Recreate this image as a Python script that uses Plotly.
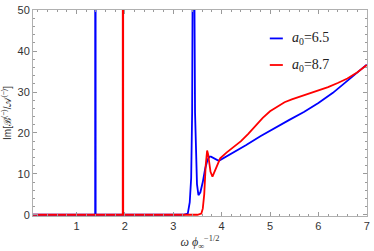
import plotly.graph_objects as go

# ---- data ----
blue_x = [0.1, 1.385, 1.39, 1.395, 3.2, 3.30, 3.34, 3.37, 3.39, 3.41, 3.42, 3.43, 3.45, 3.47,
          3.49, 3.52, 3.56, 3.61, 3.66, 3.71, 3.75, 3.78, 3.82, 3.87, 3.92, 3.96,
          4.2, 4.5, 4.8, 5.1, 5.4, 5.7, 6.0, 6.3, 6.6, 7.0]
blue_y = [0, 0, 400, 0, 0, 0.3, 3, 9, 25, 70, 120, 70, 25, 12,
          7.5, 4.8, 5.5, 8, 11.3, 13.5, 14.2, 14.2, 13.9, 13.5, 13.3, 13.3,
          14.9, 17.0, 19.2, 21.3, 23.2, 25.1, 27.3, 29.8, 32.7, 36.7]

red_x = [0.1, 1.955, 1.96, 1.965, 3.5, 3.58, 3.61, 3.64, 3.67, 3.70, 3.72, 3.74,
         3.77, 3.81, 3.85, 3.89, 3.93, 3.97, 4.1, 4.25, 4.4, 4.55, 4.7, 4.85, 5.0,
         5.15, 5.3, 5.45, 5.6, 5.8, 6.0, 6.2, 6.4, 6.6, 6.8, 7.0]
red_y = [0, 0, 400, 0, 0, 0.3, 1.5, 5, 12, 15.7, 14.8, 13.3,
         10.5, 9.3, 10.4, 11.8, 12.9, 13.8, 15.2, 16.6, 18.0, 19.8, 21.8, 23.7, 25.3,
         26.5, 27.5, 28.2, 28.8, 29.5, 30.3, 31.2, 32.2, 33.3, 34.8, 36.6]

x_ticks = [1, 2, 3, 4, 5, 6, 7]
y_ticks = [0, 10, 20, 30, 40, 50]
legend_labels = ["<i>a</i><sub>0</sub>=6.5", "<i>a</i><sub>0</sub>=8.7"]
colors = ["#0000ff", "#ff0000"]

fig = go.Figure()
fig.add_trace(go.Scatter(x=blue_x, y=blue_y, mode="lines",
                         line=dict(color=colors[0], width=1.8), name=legend_labels[0]))
fig.add_trace(go.Scatter(x=red_x, y=red_y, mode="lines",
                         line=dict(color=colors[1], width=1.8), name=legend_labels[1]))

axis_common = dict(
    ticks="inside", ticklen=4, tickcolor="#9a9a9a", tickwidth=1,
    showline=True, linecolor="#b0b0b0", linewidth=1, mirror="ticks",
    showgrid=False, zeroline=False,
    tickfont=dict(family="Liberation Sans", size=11, color="#333333"),
)

fig.update_xaxes(range=[0.1, 7.005], tickvals=x_ticks,
                 minor=dict(dtick=0.2, tick0=0, ticks="inside", ticklen=2, tickcolor="#9a9a9a"),
                 title=dict(text="<i>ω ϕ</i><sub>∞</sub><sup>−1/2</sup>",
                            font=dict(family="Liberation Serif", size=12, color="#333333"),
                            standoff=6),
                 **axis_common)
fig.update_yaxes(range=[-0.3, 50.05], tickvals=y_ticks,
                 minor=dict(dtick=2, tick0=0, ticks="inside", ticklen=2, tickcolor="#9a9a9a"),
                 title=dict(text="Im[ℬ<sup>(−)</sup>/𝒜<sup>(−)</sup>]",
                            font=dict(family="Liberation Sans", size=10, color="#333333"),
                            standoff=4),
                 **axis_common)

# legend drawn as short line samples + labels
leg_y = [0.862, 0.733]
shapes = []
annotations = []
for lab, col, yy in zip(legend_labels, colors, leg_y):
    shapes.append(dict(type="line", xref="paper", yref="paper", x0=0.709, x1=0.748,
                       y0=yy, y1=yy, line=dict(color=col, width=1.8)))
    annotations.append(dict(xref="paper", yref="paper", x=0.77, y=yy, xanchor="left",
                            yanchor="middle", text=lab, showarrow=False,
                            font=dict(family="Liberation Serif", size=14, color="#222222")))

fig.update_layout(width=374, height=251, margin=dict(l=33, r=4, t=6, b=35),
                  plot_bgcolor="white", paper_bgcolor="white", showlegend=False,
                  shapes=shapes, annotations=annotations)

fig.write_html("out.html", config={"displayModeBar": False},
               post_script="document.body.style.margin='0';document.body.style.padding='0';")
